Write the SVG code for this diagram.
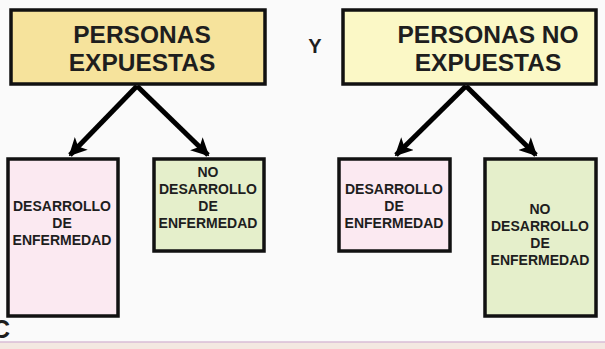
<svg xmlns="http://www.w3.org/2000/svg" width="605" height="349" viewBox="0 0 605 349">
<defs>
<style>
.box{stroke:#111;stroke-width:3.5}
.t{font-family:"Liberation Sans",Arial,sans-serif;font-weight:bold;fill:#1e1e1e;text-anchor:middle}
.big{font-size:24.5px}
.sm{font-size:14px}
.conn{stroke:#000;stroke-width:5;fill:none}
</style>
<marker id="ah" viewBox="0 0 10 10" refX="9" refY="5" markerWidth="3.6" markerHeight="3.6" orient="auto" markerUnits="strokeWidth">
<path d="M0,0 L10,5 L0,10 L2.5,5 Z" fill="#000"/>
</marker>
</defs>
<rect width="605" height="349" fill="#fafafa"/>
<rect x="0" y="342" width="605" height="7" fill="#f3e8e1"/>
<line x1="0" y1="342" x2="605" y2="342" stroke="#d9bdd6" stroke-width="1.5"/>
<text x="-8" y="338" class="t" style="font-size:25px;text-anchor:start">C</text>
<text x="315" y="53" class="t" style="font-size:20px">Y</text>

<g id="connectors">
<line class="conn" x1="137" y1="86" x2="70" y2="155" marker-end="url(#ah)"/>
<line class="conn" x1="137" y1="86" x2="208" y2="155" marker-end="url(#ah)"/>
<line class="conn" x1="466" y1="86" x2="396" y2="155" marker-end="url(#ah)"/>
<line class="conn" x1="466" y1="86" x2="536" y2="155" marker-end="url(#ah)"/>
</g>

<g id="expuestas">
<rect class="box" x="11" y="10" width="254" height="74" fill="#f6e39c"/>
<text class="t big" x="142" y="43">PERSONAS</text>
<text class="t big" x="142" y="71">EXPUESTAS</text>
</g>
<g id="no-expuestas">
<rect class="box" x="343" y="10" width="253" height="74" fill="#fbf8c6"/>
<text class="t big" x="488" y="43">PERSONAS NO</text>
<text class="t big" x="488" y="71">EXPUESTAS</text>
</g>
<g id="exp-desarrollo">
<rect class="box" x="8" y="159" width="110" height="157" fill="#fbe9f1"/>
<text class="t sm" x="62" y="211">DESARROLLO</text>
<text class="t sm" x="62" y="228">DE</text>
<text class="t sm" x="62" y="245">ENFERMEDAD</text>
</g>
<g id="exp-no-desarrollo">
<rect class="box" x="154" y="159" width="110" height="92" fill="#e5efcb"/>
<text class="t sm" x="208" y="177">NO</text>
<text class="t sm" x="208" y="194">DESARROLLO</text>
<text class="t sm" x="208" y="211">DE</text>
<text class="t sm" x="208" y="228">ENFERMEDAD</text>
</g>
<g id="noexp-desarrollo">
<rect class="box" x="339" y="159" width="111" height="92" fill="#fbe9f1"/>
<text class="t sm" x="394" y="194">DESARROLLO</text>
<text class="t sm" x="394" y="211">DE</text>
<text class="t sm" x="394" y="228">ENFERMEDAD</text>
</g>
<g id="noexp-no-desarrollo">
<rect class="box" x="485" y="159" width="111" height="157" fill="#e5efcb"/>
<text class="t sm" x="540" y="214">NO</text>
<text class="t sm" x="540" y="231">DESARROLLO</text>
<text class="t sm" x="540" y="248">DE</text>
<text class="t sm" x="540" y="265">ENFERMEDAD</text>
</g>
</svg>
